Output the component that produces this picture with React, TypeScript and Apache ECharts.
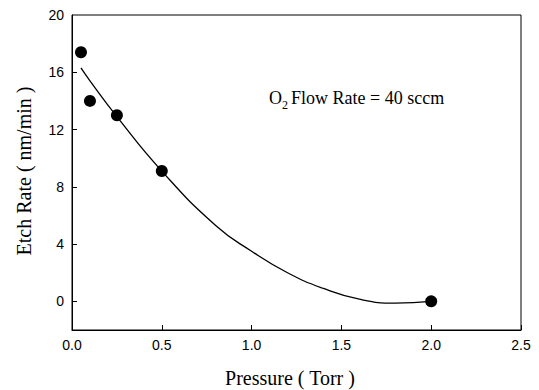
import React, { useEffect, useRef } from "react";
import * as echarts from "echarts";

const pressure = [0.05, 0.1, 0.25, 0.5, 2.0];
const etchRate = [17.4, 14.0, 13.0, 9.1, 0.0];

const fitX = [0.05, 0.1, 0.25, 0.5, 0.8, 1.0, 1.2, 1.4, 1.6, 1.8, 2.0];
const fitY = [16.3, 15.4, 12.9, 9.1, 5.3, 3.5, 2.0, 0.9, 0.15, -0.12, 0.0];

const yLabelValues = [0, 4, 8, 12, 16, 20];
const yTickValues = [0, 4, 8, 12, 16];

const xTitle = "Pressure ( Torr )";
const yTitle = "Etch Rate ( nm/min )";
const noteMain = "O";
const noteSub = "2";
const noteRest = "Flow Rate = 40 sccm";

export default function App() {
  const ref = useRef<HTMLDivElement>(null);
  useEffect(() => {
    if (!ref.current) return;
    const chart = echarts.init(ref.current, undefined, { renderer: "svg" });
    const serif = "Liberation Serif";
    const sans = "Liberation Sans";
    chart.setOption({
      animation: false,
      backgroundColor: "#fff",
      grid: {
        left: 72,
        top: 15,
        right: 18,
        bottom: 60,
        show: true,
        borderColor: "#000",
        borderWidth: 1,
      },
      xAxis: {
        type: "value",
        min: 0,
        max: 2.5,
        interval: 0.5,
        splitLine: { show: false },
        axisLine: { onZero: false, lineStyle: { color: "#000", width: 1 } },
        axisTick: { inside: true, length: 5, lineStyle: { color: "#000" } },
        axisLabel: {
          color: "#000",
          fontFamily: sans,
          fontSize: 14,
          margin: 8,
          formatter: (v: number) => v.toFixed(1),
        },
      },
      yAxis: {
        type: "value",
        min: -2,
        max: 20,
        splitLine: { show: false },
        axisLine: { show: true, onZero: false, lineStyle: { color: "#000", width: 1 } },
        axisTick: {
          show: true,
          inside: true,
          length: 5,
          customValues: yTickValues,
          lineStyle: { color: "#000" },
        },
        axisLabel: {
          color: "#000",
          fontFamily: sans,
          fontSize: 14,
          margin: 8,
          customValues: yLabelValues,
        },
      },
      series: [
        {
          type: "line",
          data: fitX.map((x, i) => [x, fitY[i]]),
          smooth: true,
          showSymbol: false,
          symbol: "none",
          lineStyle: { color: "#000", width: 1.3 },
          z: 2,
        },
        {
          type: "scatter",
          data: pressure.map((x, i) => [x, etchRate[i]]),
          symbol: "circle",
          symbolSize: 12,
          itemStyle: { color: "#000", opacity: 1 },
          z: 3,
        },
      ],
      graphic: [
        {
          type: "text",
          left: 269,
          top: 89,
          style: { text: noteMain, fontFamily: serif, fontSize: 18, fill: "#000" },
        },
        {
          type: "text",
          left: 282,
          top: 99,
          style: { text: noteSub, fontFamily: serif, fontSize: 12, fill: "#000" },
        },
        {
          type: "text",
          left: 291,
          top: 89,
          style: { text: noteRest, fontFamily: serif, fontSize: 18, fill: "#000" },
        },
        {
          type: "text",
          x: 290,
          y: 378,
          style: {
            text: xTitle,
            fontFamily: serif,
            fontSize: 20,
            fill: "#000",
            align: "center",
            verticalAlign: "middle",
          },
        },
        {
          type: "text",
          x: 24,
          y: 171,
          rotation: Math.PI / 2,
          style: {
            text: yTitle,
            fontFamily: serif,
            fontSize: 20,
            fill: "#000",
            align: "center",
            verticalAlign: "middle",
          },
        },
      ],
    });
    return () => chart.dispose();
  }, []);
  return (
    <div
      ref={ref}
      style={{ position: "fixed", left: 0, top: 0, width: 539, height: 390 }}
    />
  );
}
